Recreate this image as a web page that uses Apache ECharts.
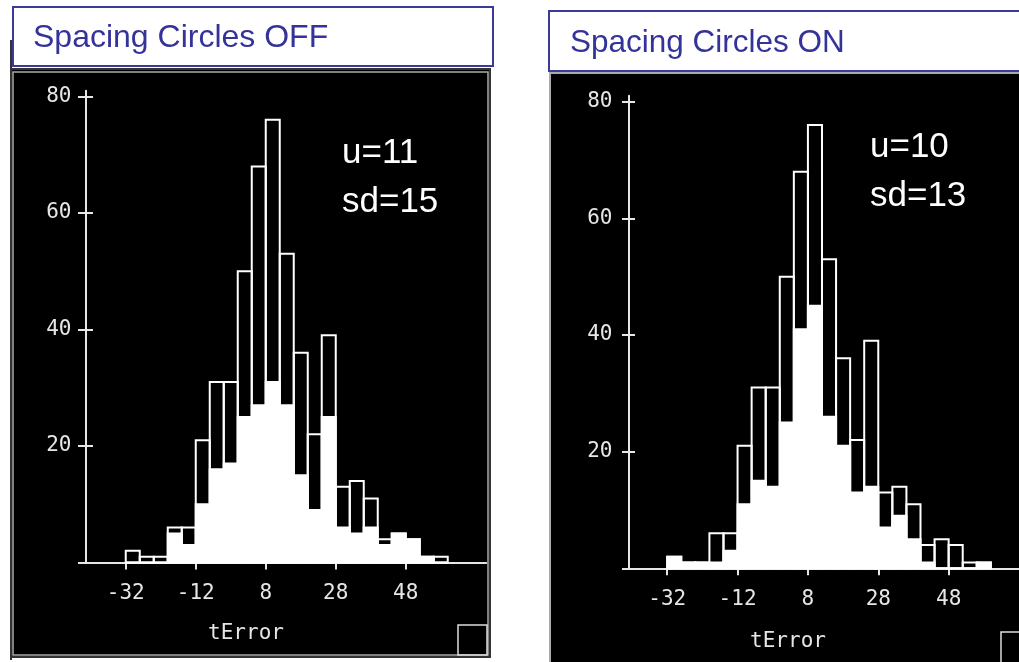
<!DOCTYPE html>
<html>
<head>
<meta charset="utf-8">
<script src="https://cdn.jsdelivr.net/npm/echarts@6/dist/echarts.min.js"></script>
<style>
html,body{margin:0;padding:0;background:#fff;}
#chart{width:1019px;height:662px;}
</style>
</head>
<body>
<div id="chart"></div>
<script>
// ---- data (histogram of tError, bins of width 4) ----
const binStarts = [-32,-28,-24,-20,-16,-12,-8,-4,0,4,8,12,16,20,24,28,32,36,40,44,48,52,56];
const binWidth = 4;
const totalCounts = [2,1,1,6,6,21,31,31,50,68,76,53,36,22,39,13,14,11,4,5,4,1,1];
const offSubset = [0,0,0,5,3,10,16,17,25,27,31,27,15,9,25,6,5,6,3,5,4,1,0];
const onSubset  = [2,1,1,1,3,11,15,14,25,41,45,26,21,13,14,7,9,5,1,0,0,0,1];
const xTickValues = [-32,-12,8,28,48];
const yTickValues = [0,20,40,60,80];
const yLabelValues = [20,40,60,80];
const panelTitles = ['Spacing Circles OFF','Spacing Circles ON'];
const statsOff = ['u=11','sd=15'];
const statsOn = ['u=10','sd=13'];
const axisName = 'tError';

const chart = echarts.init(document.getElementById('chart'), null, {renderer:'canvas'});
const AX = '#e6e6e6';
const MONO = '"DejaVu Sans Mono", monospace';
const SANS = '"Liberation Sans", Arial, sans-serif';

function pairs(a,b){ return a.map((v,i)=>[v,b[i]]); }

function histRender(filled){
  return function(params, api){
    const x0 = api.value(0), v = api.value(1);
    const p0 = api.coord([x0, v]);
    const p1 = api.coord([x0 + binWidth, 0]);
    return {
      type:'rect',
      shape:{x:p0[0], y:p0[1], width:p1[0]-p0[0], height:p1[1]-p0[1]},
      style:{fill: filled ? '#ffffff' : 'rgba(0,0,0,0)', stroke:'#ffffff', lineWidth:2}
    };
  };
}

function xAxisFor(gi, min, max, margin){
  return {
    type:'value', gridIndex:gi, min:min, max:max, position:'bottom',
    axisLine:{show:true, onZero:false, lineStyle:{color:AX, width:2}},
    axisTick:{show:true, length:7, customValues:xTickValues, lineStyle:{color:AX, width:2}},
    axisLabel:{show:true, customValues:xTickValues, color:AX, fontFamily:MONO, fontSize:21, margin:margin},
    splitLine:{show:false}
  };
}
function yAxesFor(gi, margin, tick){
  return [{
    type:'value', gridIndex:gi, min:0, max:81, position:'left', offset:0,
    axisLine:{show:true, onZero:false, lineStyle:{color:AX, width:2}},
    axisTick:{show:true, length:tick, customValues:yTickValues, lineStyle:{color:AX, width:2}},
    axisLabel:{show:true, customValues:yLabelValues, color:AX, fontFamily:MONO, fontSize:21, margin:margin},
    splitLine:{show:false}
  },{
    type:'value', gridIndex:gi, min:0, max:81, position:'left', offset:0,
    axisLine:{show:false, onZero:false},
    axisTick:{show:true, inside:true, length:tick, customValues:yTickValues, lineStyle:{color:AX, width:2}},
    axisLabel:{show:false},
    splitLine:{show:false}
  }];
}

const option = {
  backgroundColor:'#ffffff',
  animation:false,
  grid:[
    {left:85.5, top:90.7, width:400.75, height:471.8},
    {left:628.5, top:95.8, width:391.3, height:472.5}
  ],
  xAxis:[xAxisFor(0,-43.5,71,21), xAxisFor(1,-43,68,21)],
  yAxis:[].concat(yAxesFor(0,14,7.5), yAxesFor(1,16,6.5)),
  series:[
    {type:'custom', xAxisIndex:0, yAxisIndex:0, renderItem:histRender(false), data:pairs(binStarts,totalCounts), z:3},
    {type:'custom', xAxisIndex:0, yAxisIndex:0, renderItem:histRender(true), data:pairs(binStarts,offSubset), z:4},
    {type:'custom', xAxisIndex:1, yAxisIndex:2, renderItem:histRender(false), data:pairs(binStarts,totalCounts), z:3},
    {type:'custom', xAxisIndex:1, yAxisIndex:2, renderItem:histRender(true), data:pairs(binStarts,onSubset), z:4}
  ],
  graphic:[
    // left panel
    {type:'line', z:-10, shape:{x1:11,y1:40,x2:11,y2:660}, style:{stroke:'#333', lineWidth:2}},
    {type:'rect', z:-10, shape:{x:11,y:69,width:479,height:588}, style:{fill:'#000', stroke:'#333', lineWidth:2}},
    {type:'rect', z:-9, shape:{x:13,y:72,width:475,height:583}, style:{fill:'#000', stroke:'#aaa', lineWidth:1.5}},
    {type:'rect', z:-9, shape:{x:458,y:625,width:29,height:30}, style:{fill:'none', stroke:'#ddd', lineWidth:1.5}},
    {type:'rect', z:5, shape:{x:13,y:7,width:480,height:59}, style:{fill:'#fff', stroke:'#3a3a9c', lineWidth:2}},
    {type:'text', z:6, style:{text:panelTitles[0], x:33, y:38, verticalAlign:'middle', font:'32px '+SANS, fill:'#333399'}},
    {type:'text', z:6, style:{text:statsOff[0], x:342, y:153, verticalAlign:'middle', font:'35px '+SANS, fill:'#fff'}},
    {type:'text', z:6, style:{text:statsOff[1], x:342, y:202, verticalAlign:'middle', font:'35px '+SANS, fill:'#fff'}},
    {type:'text', z:6, style:{text:axisName, x:246, y:634, align:'center', verticalAlign:'middle', font:'21px '+MONO, fill:AX}},
    // right panel
    {type:'rect', z:-10, shape:{x:550,y:73,width:480,height:600}, style:{fill:'#000', stroke:'#aaa', lineWidth:2}},
    {type:'rect', z:-9, shape:{x:1001,y:632,width:25,height:40}, style:{fill:'none', stroke:'#ddd', lineWidth:1.5}},
    {type:'rect', z:5, shape:{x:549,y:11,width:480,height:60}, style:{fill:'#fff', stroke:'#3a3a9c', lineWidth:2}},
    {type:'text', z:6, style:{text:panelTitles[1], x:570, y:43, verticalAlign:'middle', font:'31.5px '+SANS, fill:'#333399'}},
    {type:'text', z:6, style:{text:statsOn[0], x:870, y:147, verticalAlign:'middle', font:'35px '+SANS, fill:'#fff'}},
    {type:'text', z:6, style:{text:statsOn[1], x:870, y:196, verticalAlign:'middle', font:'35px '+SANS, fill:'#fff'}},
    {type:'text', z:6, style:{text:axisName, x:788, y:642, align:'center', verticalAlign:'middle', font:'21px '+MONO, fill:AX}}
  ]
};
chart.setOption(option);
</script>
</body>
</html>
